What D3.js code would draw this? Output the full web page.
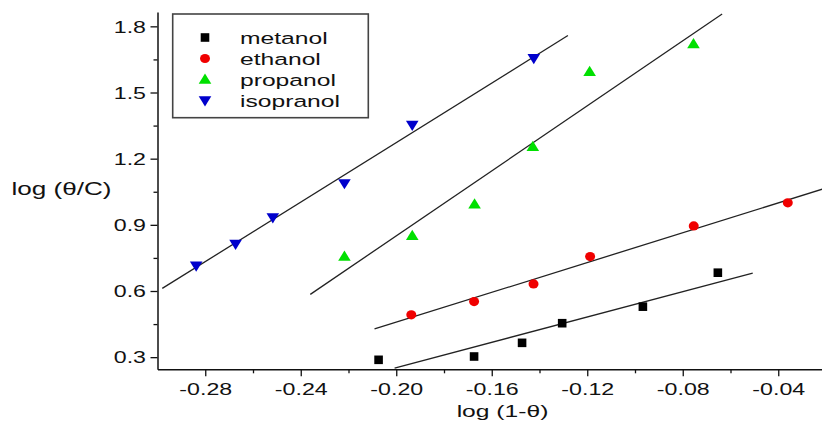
<!DOCTYPE html>
<html>
<head>
<meta charset="utf-8">
<script src="https://cdn.jsdelivr.net/npm/d3@7"></script>
<style>
  html, body { margin: 0; padding: 0; background: #fff; }
  svg { display: block; }
  text { font-family: "Liberation Sans", Arial, sans-serif; fill: #111; }
</style>
</head>
<body>
<svg id="chart" width="822" height="424"></svg>
<script>
// ---- data ----
const seriesNames = ["metanol", "ethanol", "propanol", "isopranol"];
const seriesColors = ["#000000", "#f00000", "#00e000", "#0000cc"];
const seriesShapes = ["square", "circle", "triUp", "triDown"];

const metanolX   = [-0.2074, -0.1674, -0.1473, -0.1305, -0.0967, -0.0653];
const metanolY   = [0.288, 0.303, 0.365, 0.454, 0.529, 0.683];
const ethanolX   = [-0.1937, -0.1674, -0.1425, -0.1188, -0.0754, -0.0360];
const ethanolY   = [0.492, 0.552, 0.632, 0.756, 0.895, 1.000];
const propanolX  = [-0.2217, -0.1933, -0.1672, -0.1428, -0.1190, -0.0755];
const propanolY  = [0.756, 0.850, 0.993, 1.254, 1.594, 1.720];
const isopranolX = [-0.2838, -0.2673, -0.2517, -0.2217, -0.1933, -0.1424];
const isopranolY = [0.715, 0.813, 0.933, 1.088, 1.353, 1.655];

// x-extent of each linear fit line
const fitStart = [-0.2007, -0.2091, -0.2360, -0.2980];
const fitEnd   = [-0.0507, -0.0200, -0.0635, -0.1281];

const xMajorTicks = [-0.28, -0.24, -0.20, -0.16, -0.12, -0.08, -0.04];
const xMinorTicks = [-0.26, -0.22, -0.18, -0.14, -0.10, -0.06];
const yMajorTicks = [0.3, 0.6, 0.9, 1.2, 1.5, 1.8];
const yMinorTicks = [0.45, 0.75, 1.05, 1.35, 1.65];

const xTitle = "log (1-θ)";
const yTitle = "log (θ/C)";

// ---- drawing ----
const svg = d3.select("#chart");
const STRETCH = 1.45;

const x = d3.scaleLinear().domain([-0.30, -0.02]).range([157.5, 826]);
const y = d3.scaleLinear().domain([0.245, 1.865]).range([369.3, 12]);

const seriesData = [
  [metanolX, metanolY],
  [ethanolX, ethanolY],
  [propanolX, propanolY],
  [isopranolX, isopranolY]
].map(([xs, ys], i) => ({
  name: seriesNames[i],
  color: seriesColors[i],
  shape: seriesShapes[i],
  points: xs.map((v, j) => ({ x: v, y: ys[j] })),
  fit: [fitStart[i], fitEnd[i]]
}));

function regression(pts) {
  const mx = d3.mean(pts, d => d.x), my = d3.mean(pts, d => d.y);
  const sxy = d3.sum(pts, d => (d.x - mx) * (d.y - my));
  const sxx = d3.sum(pts, d => (d.x - mx) * (d.x - mx));
  const b = sxy / sxx;
  return v => my + b * (v - mx);
}

function shapePath(shape) {
  switch (shape) {
    case "square": return "M-4.3,-4.3H4.3V4.3H-4.3Z";
    case "circle": return "M5,0A5,4.6 0 1,1 -5,0A5,4.6 0 1,1 5,0Z";
    case "triUp": return "M0,-6L6.3,4.2L-6.3,4.2Z";
    case "triDown": return "M0,6L6.3,-4.2L-6.3,-4.2Z";
  }
}

// clip for plot area
svg.append("clipPath").attr("id", "plotclip")
  .append("rect").attr("x", 157.5).attr("y", 0).attr("width", 670).attr("height", 369.3);

// X axis
const gx = svg.append("g").attr("transform", `translate(0,${y.range()[0]})`)
  .call(d3.axisBottom(x).tickValues(xMajorTicks).tickSize(7).tickSizeOuter(0)
        .tickFormat(d => d3.format(".2f")(d).replace("−", "-")));
gx.selectAll(".tick text")
  .attr("y", null).attr("dy", null)
  .attr("transform", `translate(0,25.4) scale(${STRETCH},1)`)
  .attr("font-size", 16).attr("fill", "#111");
gx.append("g").call(d3.axisBottom(x).tickValues(xMinorTicks).tickSize(4).tickFormat(""))
  .select(".domain").remove();
gx.selectAll(".domain").attr("stroke", "#111").attr("stroke-width", 1.5);
gx.selectAll(".tick line").attr("stroke", "#111").attr("stroke-width", 1.3);

// Y axis
const gy = svg.append("g").attr("transform", `translate(${x.range()[0]},0)`)
  .call(d3.axisLeft(y).tickValues(yMajorTicks).tickSize(7).tickSizeOuter(0)
        .tickFormat(d3.format(".1f")));
gy.selectAll(".tick text")
  .attr("x", null).attr("dy", "0.36em")
  .attr("transform", `translate(-11.5,0) scale(${STRETCH},1)`)
  .attr("font-size", 16).attr("fill", "#111");
gy.append("g").call(d3.axisLeft(y).tickValues(yMinorTicks).tickSize(4).tickFormat(""))
  .select(".domain").remove();
gy.selectAll(".domain").attr("stroke", "#111").attr("stroke-width", 1.5);
gy.selectAll(".tick line").attr("stroke", "#111").attr("stroke-width", 1.3);

// Axis titles
svg.append("text").attr("text-anchor", "middle")
  .attr("transform", `translate(502.5,417.3) scale(${STRETCH},1)`)
  .attr("font-size", 17).text(xTitle);
svg.append("text").attr("text-anchor", "start")
  .attr("transform", `translate(11.5,195) scale(${STRETCH},1)`)
  .attr("font-size", 18).text(yTitle);

// Fit lines
const plot = svg.append("g").attr("clip-path", "url(#plotclip)");
const line = d3.line().x(d => x(d[0])).y(d => y(d[1]));
seriesData.forEach(s => {
  const f = regression(s.points);
  plot.append("path")
    .attr("d", line(s.fit.map(v => [v, f(v)])))
    .attr("fill", "none").attr("stroke", "#222").attr("stroke-width", 1.3);
});

// Markers
seriesData.forEach(s => {
  svg.append("g").selectAll("path").data(s.points).join("path")
    .attr("d", shapePath(s.shape))
    .attr("transform", d => `translate(${x(d.x)},${y(d.y)})`)
    .attr("fill", s.color);
});

// Legend
const legend = svg.append("g");
legend.append("rect").attr("x", 172.7).attr("y", 14).attr("width", 195.6).attr("height", 103.7)
  .attr("fill", "#fff").attr("stroke", "#444").attr("stroke-width", 1.6);
const rowY = d3.scalePoint().domain(seriesNames).range([37.5, 100.5]);
seriesData.forEach(s => {
  legend.append("path").attr("d", shapePath(s.shape))
    .attr("transform", `translate(205,${rowY(s.name)})`).attr("fill", s.color);
  legend.append("text")
    .attr("transform", `translate(240,${rowY(s.name) + 6}) scale(${STRETCH},1)`)
    .attr("font-size", 17).text(s.name);
});
</script>
</body>
</html>
